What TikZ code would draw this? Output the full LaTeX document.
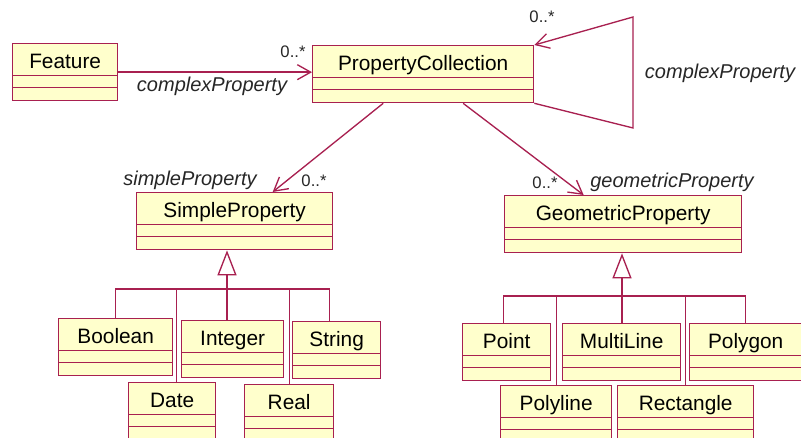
\documentclass[tikz,border=0pt]{standalone}
\usepackage{fontspec}
\setmainfont{Liberation Sans}
\usepackage{tikz}
\usetikzlibrary{arrows.meta}
\definecolor{umlline}{RGB}{168,32,80}
\definecolor{umlfill}{RGB}{255,255,204}

\begin{document}
\begin{tikzpicture}[x=0.6pt, y=-0.6pt, line width=0.8pt,
  cls/.style = {draw=umlline, fill=umlfill, anchor=north west, minimum width=#1*0.6pt,
    inner sep=0pt, text height=15pt, text depth=19.2pt, font=\fontsize{12.5}{14}\selectfont,
    path picture={\draw[umlline]
      ([yshift=-19.2pt]path picture bounding box.north west) -- ([yshift=-19.2pt]path picture bounding box.north east)
      ([yshift=-26.4pt]path picture bounding box.north west) -- ([yshift=-26.4pt]path picture bounding box.north east);}},
  assoc/.style = {draw=umlline, -{Straight Barb[length=8pt, width=9pt]}},
  inherit/.style = {draw=umlline, -{Triangle[open, length=15pt, width=11.4pt, fill=white]}},
  gen/.style = {draw=umlline},
  role/.style = {inner sep=0pt, text=black!85, font=\fontsize{12}{14}\selectfont\itshape},
  mult/.style = {inner sep=0pt, text=black!85, font=\fontsize{10}{12}\selectfont}]
\useasboundingbox (0,0) rectangle (801,438);
\clip (0,0) rectangle (801,438);

\node[cls=105] (feature) at (12,43) {Feature};
\node[cls=221] (propcoll) at (312,45) {PropertyCollection};
\node[cls=196] (simple) at (136,192) {SimpleProperty};
\node[cls=237] (geometric) at (504,195) {GeometricProperty};
\node[cls=114] (boolean) at (58,318) {Boolean};
\node[cls=102] (integer) at (181,320) {Integer};
\node[cls=88] (string) at (292,321) {String};
\node[cls=87] (date) at (128,382) {Date};
\node[cls=89] (real) at (244,384) {Real};
\node[cls=88] (point) at (462,323) {Point};
\node[cls=118] (multiline) at (562,323) {MultiLine};
\node[cls=112] (polygon) at (689,323) {Polygon};
\node[cls=111] (polyline) at (500,385) {Polyline};
\node[cls=136] (rect) at (617,385) {Rectangle};

\coordinate (loopbot) at (633,128);
\coordinate (looptop) at (633,17);
\coordinate (hubS) at (227,289);
\coordinate (hubG) at (622,296);

\draw[assoc] (feature.east) -- (feature.east -| propcoll.west);
\draw[assoc] (propcoll.south east) -- (loopbot) -- (looptop) -- (propcoll.north east);
\draw[assoc] ([xshift=-24pt]propcoll.south) -- ([xshift=22.8pt]simple.north);
\draw[assoc] ([xshift=24pt]propcoll.south) -- ([xshift=-23.7pt]geometric.north);

\draw[inherit] (hubS) -- (hubS |- simple.south);
\draw[gen] (boolean.north) |- (hubS) -| ([xshift=-4.2pt]string.north);
\draw[gen] (hubS) -- (hubS |- integer.north);
\draw[gen] ([xshift=2.7pt]date.north) |- (hubS);
\draw[gen] (real.north) |- (hubS);

\draw[inherit] (hubG) -- (hubG |- geometric.south);
\draw[gen] ([xshift=-1.8pt]point.north) |- (hubG) -| (polygon.north);
\draw[gen] (hubG) -- (hubG |- multiline.north);
\draw[gen] (polyline.north) |- (hubG);
\draw[gen] (rect.north) |- (hubG);

\node[mult] (m1) at (293,52) {0..*};
\node[role] (r1) at (212,86) {complexProperty};
\node[mult] (m2) at (542,17) {0..*};
\node[role] (r2) at (720,73) {complexProperty};
\node[role] (r3) at (190,180) {simpleProperty};
\node[mult] (m3) at (314,181) {0..*};
\node[mult] (m4) at (545,183) {0..*};
\node[role] (r4) at (672,182) {geometricProperty};
\end{tikzpicture}
\end{document}
